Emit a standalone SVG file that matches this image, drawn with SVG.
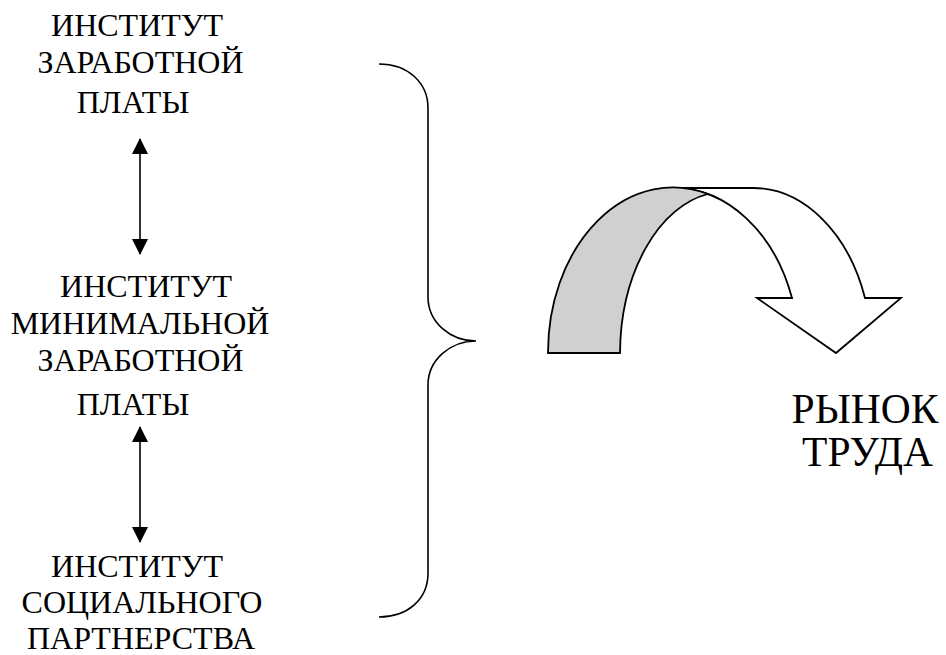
<svg xmlns="http://www.w3.org/2000/svg" width="946" height="655" viewBox="0 0 946 655">
  <style>
    .lbl { font-family: "Liberation Serif", "Times New Roman", serif; font-size: 32px; fill: #000; text-anchor: middle; }
    .big { font-family: "Liberation Serif", "Times New Roman", serif; font-size: 41.5px; fill: #000; text-anchor: middle; }
    .line { stroke: #000; stroke-width: 1.6; fill: none; }
    .shape { stroke: #000; stroke-width: 1.8; stroke-linejoin: miter; }
  </style>
  <defs>
    <marker id="head" viewBox="0 0 16 16" refX="15" refY="8" markerWidth="16" markerHeight="16" markerUnits="userSpaceOnUse" orient="auto-start-reverse">
      <path d="M0,0 L16,8 L0,16 Z" fill="#000"/>
    </marker>
  </defs>
  <rect width="946" height="655" fill="#fff"/>

  <g id="wage-institute">
    <text class="lbl" x="137" y="36">ИНСТИТУТ</text>
    <text class="lbl" x="140.5" y="73">ЗАРАБОТНОЙ</text>
    <text class="lbl" x="133" y="113">ПЛАТЫ</text>
  </g>

  <g id="min-wage-institute">
    <text class="lbl" x="146" y="297">ИНСТИТУТ</text>
    <text class="lbl" x="140" y="334">МИНИМАЛЬНОЙ</text>
    <text class="lbl" x="140.5" y="371">ЗАРАБОТНОЙ</text>
    <text class="lbl" x="133" y="415">ПЛАТЫ</text>
  </g>

  <g id="partnership-institute">
    <text class="lbl" x="137" y="577">ИНСТИТУТ</text>
    <text class="lbl" x="142" y="613">СОЦИАЛЬНОГО</text>
    <text class="lbl" x="141" y="649">ПАРТНЕРСТВА</text>
  </g>

  <g id="labour-market">
    <text class="big" x="865" y="423">РЫНОК</text>
    <text class="big" x="867.5" y="466">ТРУДА</text>
  </g>

  <g id="connectors">
    <line class="line" x1="140" y1="139" x2="140" y2="254" marker-start="url(#head)" marker-end="url(#head)"/>
    <line class="line" x1="140" y1="427" x2="140" y2="542" marker-start="url(#head)" marker-end="url(#head)"/>
    <!-- curly brace grouping the three institutes -->
    <path class="line" d="M379,64 C407,64 428,82 428,108 V297 C428,322 450,341 476,341 C450,341 428,360 428,385 V573 C428,600 407,617 379,617"/>
  </g>

  <g id="curved-arrow">
    <!-- front band with arrowhead -->
    <path class="shape" fill="#fff" d="M673,188 L753,188 A119,165 0 0 1 865,298 L901,298 L836,353 L757,298 L792,298 A125,165 0 0 0 673,188 Z"/>
    <!-- shaded back band -->
    <path class="shape" fill="#d0d0d0" d="M548,353 L620,353 A105,163 0 0 1 708,194 A125,165 0 0 0 548,353 Z"/>
  </g>
</svg>
